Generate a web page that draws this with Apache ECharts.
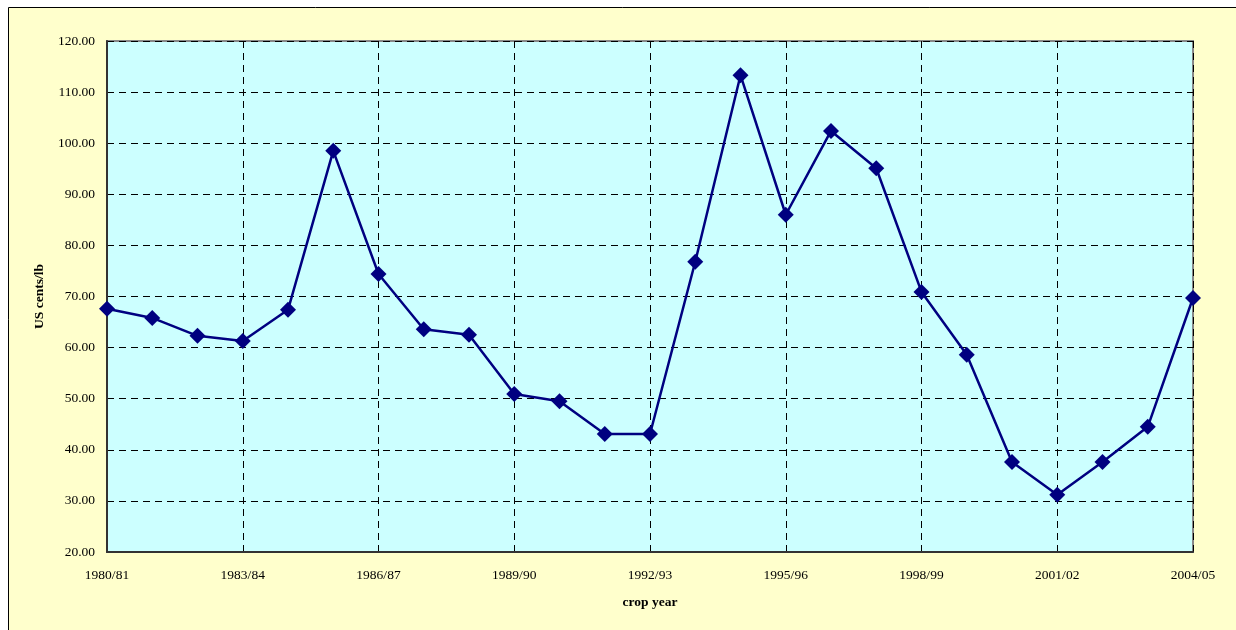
<!DOCTYPE html>
<html>
<head>
<meta charset="utf-8">
<script src="https://cdn.jsdelivr.net/npm/echarts@6/dist/echarts.min.js"></script>
<style>html,body{margin:0;padding:0;background:#fff;}#c{width:1236px;height:630px;}</style>
</head>
<body>
<div id="c"></div>
<script>
const categories = ["1980/81","1981/82","1982/83","1983/84","1984/85","1985/86","1986/87","1987/88","1988/89","1989/90","1990/91","1991/92","1992/93","1993/94","1994/95","1995/96","1996/97","1997/98","1998/99","1999/00","2000/01","2001/02","2002/03","2003/04","2004/05"];
const prices = [67.6,65.8,62.3,61.3,67.4,98.5,74.4,63.6,62.5,50.9,49.5,43.1,43.1,76.8,113.3,86.0,102.4,95.1,70.9,58.6,37.6,31.2,37.6,44.5,69.7];
const yTicks = {min:20, max:120, step:10};

const chart = echarts.init(document.getElementById('c'), null, {renderer:'canvas'});
const font = '"Liberation Serif","Times New Roman",serif';
chart.setOption({
  animation:false,
  backgroundColor:'#ffffff',
  graphic:[{type:'rect', z:-10, shape:{x:8.5,y:7.5,width:1240,height:640}, style:{fill:'#FFFFCC', stroke:'#000', lineWidth:1}}],
  grid:{left:107, right:43, top:41, bottom:78, show:true, backgroundColor:'#CCFFFF', borderColor:'#888', borderWidth:2},
  xAxis:{
    type:'category', data:categories, boundaryGap:false,
    name:'crop year', nameLocation:'middle', nameGap:44,
    nameTextStyle:{fontFamily:font, fontWeight:'bold', fontSize:13.5, color:'#000'},
    axisLine:{lineStyle:{color:'#333', width:2}},
    axisTick:{show:false},
    axisLabel:{interval:2, fontFamily:font, fontSize:13.5, color:'#000', margin:16},
    splitLine:{show:true, interval:2, lineStyle:{color:'#000', type:[7,5], width:1}}
  },
  yAxis:{
    type:'value', min:yTicks.min, max:yTicks.max, interval:yTicks.step,
    name:'US cents/lb', nameLocation:'middle', nameGap:58, nameRotate:90,
    nameTextStyle:{fontFamily:font, fontWeight:'bold', fontSize:13.5, color:'#000'},
    axisLine:{show:true, lineStyle:{color:'#333', width:2}},
    axisTick:{show:false},
    axisLabel:{formatter:v=>v.toFixed(2), fontFamily:font, fontSize:13.5, color:'#000', margin:12},
    splitLine:{show:true, lineStyle:{color:'#000', type:[7,5], width:1}}
  },
  series:[{
    type:'line', data:prices,
    lineStyle:{color:'#000080', width:2.5},
    itemStyle:{color:'#000080'},
    symbol:'diamond', symbolSize:16, showAllSymbol:true
  }]
});
</script>
</body>
</html>
